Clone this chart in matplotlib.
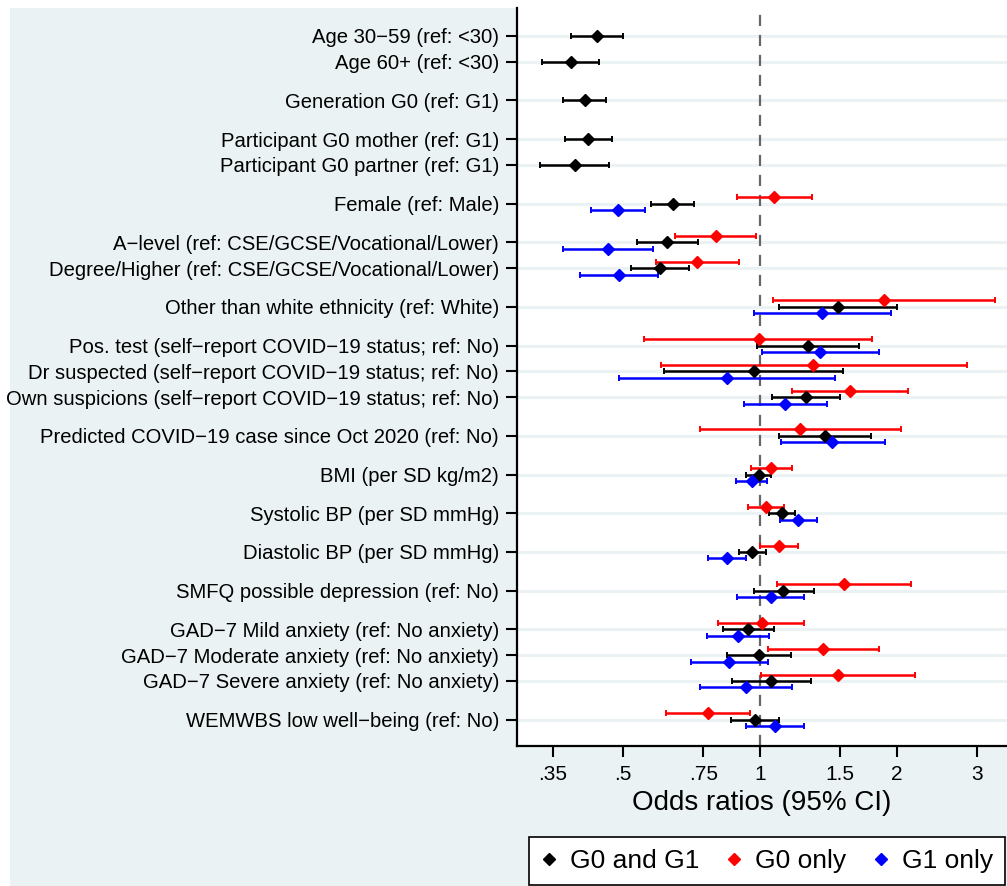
import numpy as np
import matplotlib
matplotlib.use("Agg")
import matplotlib.pyplot as plt
from matplotlib.lines import Line2D

plt.rcParams['font.family'] = ['Liberation Sans', 'DejaVu Sans']

# rows, top to bottom
labels = [
    "Age 30\u221259 (ref: <30)",
    "Age 60+ (ref: <30)",
    "Generation G0 (ref: G1)",
    "Participant G0 mother (ref: G1)",
    "Participant G0 partner (ref: G1)",
    "Female (ref: Male)",
    "A\u2212level (ref: CSE/GCSE/Vocational/Lower)",
    "Degree/Higher (ref: CSE/GCSE/Vocational/Lower)",
    "Other than white ethnicity (ref: White)",
    "Pos. test (self\u2212report COVID\u221219 status; ref: No)",
    "Dr suspected (self\u2212report COVID\u221219 status; ref: No)",
    "Own suspicions (self\u2212report COVID\u221219 status; ref: No)",
    "Predicted COVID\u221219 case since Oct 2020 (ref: No)",
    "BMI (per SD kg/m2)",
    "Systolic BP (per SD mmHg)",
    "Diastolic BP (per SD mmHg)",
    "SMFQ possible depression (ref: No)",
    "GAD\u22127 Mild anxiety (ref: No anxiety)",
    "GAD\u22127 Moderate anxiety (ref: No anxiety)",
    "GAD\u22127 Severe anxiety (ref: No anxiety)",
    "WEMWBS low well\u2212being (ref: No)",
]
group_sizes = [2, 1, 2, 1, 2, 1, 3, 1, 1, 1, 1, 1, 3, 1]

nan = np.nan
# G0 and G1
both_or = [0.437, 0.383, 0.411, 0.419, 0.391, 0.642, 0.625, 0.602, 1.486, 1.273, 0.969,
           1.263, 1.392, 0.992, 1.115, 0.959, 1.125, 0.941, 0.995, 1.059, 0.974]
both_lo = [0.383, 0.332, 0.369, 0.373, 0.328, 0.576, 0.537, 0.520, 1.103, 0.982, 0.616,
           1.064, 1.103, 0.932, 1.045, 0.897, 0.969, 0.830, 0.846, 0.867, 0.862]
both_hi = [0.499, 0.443, 0.459, 0.472, 0.466, 0.716, 0.731, 0.696, 2.002, 1.651, 1.523,
           1.501, 1.757, 1.057, 1.191, 1.028, 1.312, 1.071, 1.171, 1.295, 1.099]
# G0 only
g0_or = [nan, nan, nan, nan, nan, 1.073, 0.799, 0.727, 1.873, 0.992, 1.310,
         1.573, 1.225, 1.055, 1.029, 1.099, 1.529, 1.007, 1.373, 1.480, 0.769]
g0_lo = [nan, nan, nan, nan, nan, 0.888, 0.651, 0.589, 1.070, 0.556, 0.604,
         1.175, 0.738, 0.953, 0.940, 1.000, 1.088, 0.809, 1.040, 1.002, 0.621]
g0_hi = [nan, nan, nan, nan, nan, 1.302, 0.979, 0.900, 3.284, 1.765, 2.853,
         2.109, 2.036, 1.173, 1.131, 1.211, 2.148, 1.250, 1.823, 2.185, 0.951]
# G1 only
g1_or = [nan, nan, nan, nan, nan, 0.486, 0.462, 0.489, 1.366, 1.355, 0.846,
         1.136, 1.441, 0.959, 1.213, 0.846, 1.054, 0.892, 0.856, 0.931, 1.077]
g1_lo = [nan, nan, nan, nan, nan, 0.425, 0.368, 0.401, 0.967, 1.010, 0.490,
         0.923, 1.110, 0.886, 1.104, 0.769, 0.889, 0.765, 0.703, 0.739, 0.932]
g1_hi = [nan, nan, nan, nan, nan, 0.558, 0.581, 0.596, 1.937, 1.823, 1.463,
         1.404, 1.879, 1.036, 1.332, 0.929, 1.246, 1.045, 1.041, 1.173, 1.246]

xticks = [0.35, 0.5, 0.75, 1, 1.5, 2, 3]
xticklabels = [".35", ".5", ".75", "1", "1.5", "2", "3"]

# row positions: 1 unit inside a group, 1.5 between groups
ypos = []
y = 0.0
for n in group_sizes:
    for k in range(n):
        ypos.append(y)
        y += 1
    y += 0.5
ypos = np.array(ypos)

bg = "#EAF2F3"
fig = plt.figure(figsize=(10.07, 8.86), dpi=100)
fig.patch.set_facecolor("white")
fig.patches.append(plt.Rectangle((10 / 1007, 0), 1, 1 - 8 / 886, transform=fig.transFigure,
                                 facecolor=bg, edgecolor="none", zorder=-10))

ax = fig.add_axes([517 / 1007, 1 - 746 / 886, 1 - 517 / 1007, (746 - 8) / 886])
ax.set_facecolor("white")
ax.set_xscale("log")
ax.set_xlim(0.292, 3.49)
ax.set_ylim(27.52, -1.085)

for yy in ypos:
    ax.axhline(yy, color=bg, lw=2.2, zorder=1)
ax.axvline(1, color="#666666", lw=1.6, ls=(0, (5, 4)), zorder=2)


def draw(orv, lo, hi, off, color):
    orv, lo, hi = np.array(orv), np.array(lo), np.array(hi)
    m = ~np.isnan(orv)
    yy = ypos[m] + off
    ax.errorbar(orv[m], yy, xerr=[orv[m] - lo[m], hi[m] - orv[m]], fmt="D", color=color,
                ms=6.5, elinewidth=1.8, capsize=2, capthick=1.4, zorder=3)


draw(g0_or, g0_lo, g0_hi, -0.25, "#FF0000")
draw(both_or, both_lo, both_hi, 0.0, "black")
draw(g1_or, g1_lo, g1_hi, 0.25, "#0000FF")

ax.set_yticks(ypos)
ax.set_yticklabels(labels, fontsize=14.6)
ax.set_xticks(xticks)
ax.set_xticklabels(xticklabels, fontsize=15)
ax.xaxis.set_minor_locator(matplotlib.ticker.NullLocator())
ax.tick_params(axis="both", length=8, width=1.5, direction="out")
ax.tick_params(axis="y", pad=5)
ax.tick_params(axis="x", pad=6)
ax.set_xlabel("Odds ratios (95% CI)", fontsize=20, labelpad=4)

for s in ["top", "right"]:
    ax.spines[s].set_visible(False)
for s in ["left", "bottom"]:
    ax.spines[s].set_linewidth(1.6)

handles = [
    Line2D([], [], marker="D", ls="none", color="black", ms=6),
    Line2D([], [], marker="D", ls="none", color="#FF0000", ms=6),
    Line2D([], [], marker="D", ls="none", color="#0000FF", ms=6),
]
leg = fig.legend(handles, ["G0 and G1", "G0 only", "G1 only"], ncol=3, fontsize=19,
                 loc="lower center", bbox_to_anchor=(767 / 1007, 0.0015),
                 frameon=True, fancybox=False, handlelength=0.6,
                 handletextpad=0.5, columnspacing=1.0, borderpad=0.45, borderaxespad=0)
leg.get_frame().set_edgecolor("black")
leg.get_frame().set_linewidth(1.2)
leg.get_frame().set_facecolor("white")
leg.get_frame().set_alpha(1)

fig.savefig("out.png", dpi=100, facecolor=fig.get_facecolor())
